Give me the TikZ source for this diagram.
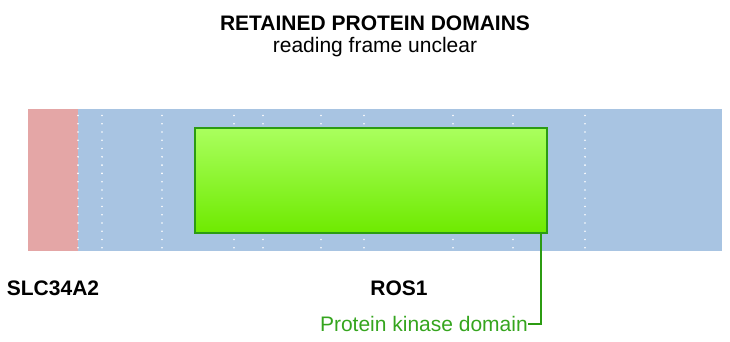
\documentclass[tikz,border=0pt]{standalone}
\usepackage{fontspec}
\setmainfont{Liberation Sans}
\usetikzlibrary{calc,positioning}
\definecolor{bandblue}{HTML}{A8C4E2}
\definecolor{bandpink}{HTML}{E4A6A6}
\definecolor{domtop}{HTML}{AAFF5E}
\definecolor{dombot}{HTML}{6EEA00}
\definecolor{domedge}{HTML}{2C9C12}
\definecolor{domtext}{HTML}{35A51E}
\tikzset{lbl/.style={font=\fontsize{21}{25}\selectfont,inner sep=0pt,anchor=base},
  genelbl/.style={lbl,font=\fontsize{21}{25}\selectfont\bfseries},
  domainbox/.style={draw=domedge,line width=2pt,top color=domtop,bottom color=dombot,anchor=north west,inner sep=0pt},
  link/.style={domedge,line width=2pt}}
\begin{document}
\begin{tikzpicture}[x=1pt,y=-1pt]
\useasboundingbox (0,0) rectangle (730,342);
% heading
\node[genelbl] (title) at (375,30.5) {RETAINED PROTEIN DOMAINS};
\node[lbl] (subtitle) at (375,53) {reading frame unclear};
% transcript band
\fill[bandpink] (28,109) rectangle (78,251);
\fill[bandblue] (78,109) rectangle (722,251);
\foreach \x in {78,102,162,234,263,321,364,453,513,585}{
  \foreach \k in {0,...,16}{\fill[white] (\x,115.5+8.27*\k) circle(0.9pt);}}
% domain
\node[domainbox,minimum width=352pt,minimum height=105pt] (kinase) at (194,127) {};
% gene names
\node[genelbl] (slc) at (53,295) {SLC34A2};
\node[genelbl] (ros) at (399,295) {ROS1};
\node[lbl,anchor=east,text=domtext] (kinlbl) at (528,323.5) {Protein kinase domain};
\draw[link] ($(kinase.south east)+(-7,0)$) |- (kinlbl.east);
\end{tikzpicture}
\end{document}
